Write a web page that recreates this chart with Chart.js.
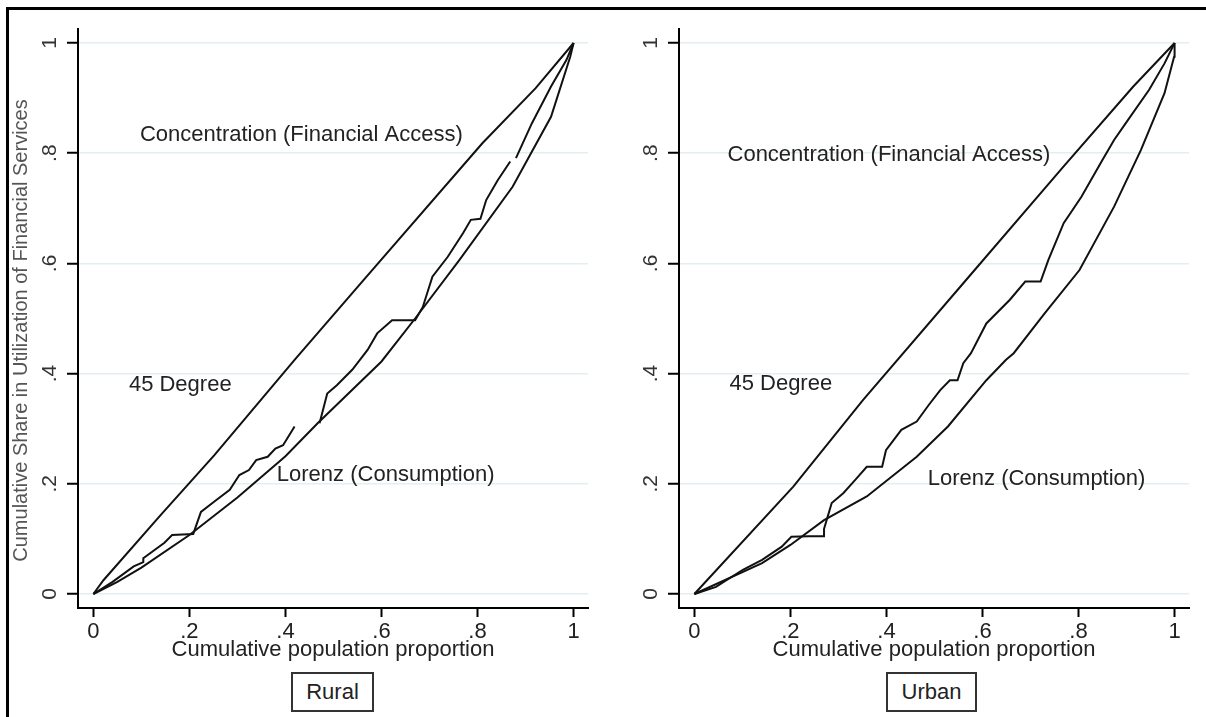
<!DOCTYPE html>
<html>
<head>
<meta charset="utf-8">
<script src="https://cdn.jsdelivr.net/npm/chart.js@4/dist/chart.umd.min.js"></script>
<style>
  html, body { margin: 0; padding: 0; background: #fff; overflow: hidden; }
  body { width: 1206px; height: 717px; position: relative; font-family: "Liberation Sans", Arial, sans-serif; }
  .frame { position: absolute; left: 6px; top: 7px; width: 1400px; height: 900px; border-left: 3px solid #000; border-top: 3px solid #000; }
  canvas { position: absolute; top: 0; }
  #ruralChart { left: 0; }
  #urbanChart { left: 601px; }
  .tag { position: absolute; top: 672px; height: 40px; box-sizing: border-box; border: 2px solid #333;
         font-size: 22px; color: #222; text-align: center; line-height: 36px; background: #fff; }
</style>
</head>
<body>
<div class="frame"></div>
<canvas id="ruralChart" width="601" height="717"></canvas>
<canvas id="urbanChart" width="601" height="717"></canvas>
<div class="tag" style="left:291px;width:83px;">Rural</div>
<div class="tag" style="left:886px;width:91px;">Urban</div>
<script>
// ticks
const tickValues = [0, 0.2, 0.4, 0.6, 0.8, 1];
const tickLabels = ['0', '.2', '.4', '.6', '.8', '1'];
const yTitle = 'Cumulative Share in Utilization of Financial Services';

// Rural panel
const ruralDiagonal = [[0,0],[0.021,0.025],[0.14,0.143],[0.252,0.252],[0.419,0.425],[0.563,0.57],[0.81,0.818],[0.921,0.918],[1,1]];
const ruralConcentration = [[0,0],[0.04,0.022],[0.084,0.05],[0.104,0.058],[0.104,0.065],[0.148,0.093],[0.164,0.107],[0.208,0.109],
  [0.224,0.149],[0.252,0.168],[0.284,0.189],[0.304,0.216],[0.324,0.225],[0.339,0.243],[0.363,0.249],[0.379,0.264],[0.395,0.27],[0.419,0.304],
  [null,null],
  [0.471,0.31],[0.487,0.364],[0.507,0.379],[0.539,0.407],[0.555,0.425],[0.571,0.443],[0.591,0.473],[0.622,0.497],[0.67,0.497],
  [0.686,0.521],[0.706,0.576],[0.738,0.612],[0.77,0.655],[0.786,0.679],[0.806,0.681],[0.818,0.715],[0.842,0.751],[0.868,0.785],
  [null,null],
  [0.88,0.791],[0.913,0.854],[0.953,0.921],[0.985,0.969],[1,1]];
const ruralLorenz = [[0,0],[0.05,0.022],[0.1,0.048],[0.2,0.107],[0.3,0.175],[0.4,0.25],[0.467,0.31],[0.6,0.422],[0.67,0.5],
  [0.762,0.606],[0.873,0.739],[0.953,0.866],[0.993,0.975],[1,1]];

// Urban panel
const urbanDiagonal = [[0,0],[0.206,0.195],[0.351,0.352],[0.56,0.564],[0.769,0.776],[0.914,0.921],[1,1]];
const urbanConcentration = [[0,0],[0.045,0.013],[0.101,0.044],[0.141,0.062],[0.182,0.086],[0.202,0.104],[0.238,0.105],[0.27,0.105],
  [0.27,0.118],[0.286,0.165],[0.31,0.183],[0.335,0.207],[0.359,0.231],[0.391,0.231],[0.399,0.261],[0.431,0.298],[0.463,0.313],
  [0.488,0.343],[0.512,0.37],[0.532,0.388],[0.548,0.388],[0.56,0.419],[0.576,0.437],[0.608,0.491],[0.657,0.534],[0.689,0.567],
  [0.721,0.567],[0.737,0.606],[0.769,0.673],[0.806,0.721],[0.85,0.788],[0.874,0.824],[0.898,0.854],[0.947,0.915],[0.979,0.963],[1,1]];
const urbanLorenz = [[0,0],[0.141,0.056],[0.2,0.089],[0.27,0.134],[0.359,0.177],[0.463,0.249],[0.528,0.304],[0.608,0.388],
  [0.649,0.425],[0.665,0.437],[0.729,0.509],[0.802,0.588],[0.874,0.703],[0.93,0.806],[0.979,0.909],[0.999,0.975],[1,1]];

// curve labels
const ruralNotes = [
  {x: 0.097, y: 0.833, text: 'Concentration (Financial Access)'},
  {x: 0.074, y: 0.379, text: '45 Degree'},
  {x: 0.382, y: 0.216, text: 'Lorenz (Consumption)'}
];
const urbanNotes = [
  {x: 0.069, y: 0.797, text: 'Concentration (Financial Access)'},
  {x: 0.073, y: 0.381, text: '45 Degree'},
  {x: 0.486, y: 0.209, text: 'Lorenz (Consumption)'}
];

const FONT = '"Liberation Sans", Arial, sans-serif';
Chart.defaults.font.family = FONT;

const toPoints = arr => arr.map(p => ({x: p[0], y: p[1]}));

// y tick labels are rotated like in Stata, plus the y title
const rotatedYTicks = {
  id: 'rotatedYTicks',
  afterDraw(chart, args, opts) {
    const ctx = chart.ctx, y = chart.scales.y, area = chart.chartArea;
    ctx.save();
    ctx.font = '21px ' + FONT;
    ctx.fillStyle = '#333';
    ctx.textAlign = 'center';
    ctx.textBaseline = 'middle';
    tickValues.forEach((v, i) => {
      ctx.save();
      ctx.translate(area.left - 28, y.getPixelForValue(v));
      ctx.rotate(-Math.PI / 2);
      ctx.fillText(tickLabels[i], 0, 0);
      ctx.restore();
    });
    if (opts.title) {
      ctx.font = '20px ' + FONT;
      ctx.fillStyle = '#555';
      ctx.translate(21, (area.top + area.bottom) / 2 + 12);
      ctx.rotate(-Math.PI / 2);
      ctx.fillText(opts.title, 0, 0);
    }
    ctx.restore();
  }
};

const curveNotes = {
  id: 'curveNotes',
  afterDatasetsDraw(chart, args, opts) {
    const ctx = chart.ctx;
    ctx.save();
    ctx.font = '22px ' + FONT;
    ctx.fillStyle = '#222';
    ctx.textAlign = 'left';
    ctx.textBaseline = 'middle';
    opts.notes.forEach(n => {
      ctx.fillText(n.text, chart.scales.x.getPixelForValue(n.x), chart.scales.y.getPixelForValue(n.y));
    });
    ctx.restore();
  }
};

const makePanel = (canvasId, diagonal, concentration, lorenz, notes, title) => {
  const line = data => ({
    data: toPoints(data),
    borderColor: '#111',
    borderWidth: 2,
    pointRadius: 0,
    tension: 0,
    fill: false,
    spanGaps: false
  });
  return new Chart(document.getElementById(canvasId), {
    type: 'line',
    data: {
      datasets: [line(diagonal), line(concentration), line(lorenz)]
    },
    options: {
      responsive: false,
      animation: false,
      layout: { padding: { top: 29, right: 13, bottom: 0, left: 0 } },
      plugins: {
        legend: { display: false },
        tooltip: { enabled: false },
        curveNotes: { notes: notes },
        rotatedYTicks: { title: title }
      },
      scales: {
        x: {
          type: 'linear',
          min: -0.032,
          max: 1.03,
          afterBuildTicks: s => { s.ticks = tickValues.map(v => ({value: v})); },
          afterFit: s => { s.height = 109; },
          border: { color: '#000', width: 2 },
          grid: { drawOnChartArea: false, tickLength: 9, tickColor: '#000', tickWidth: 2 },
          ticks: {
            color: '#222',
            font: { size: 22 },
            padding: 2,
            maxRotation: 0,
            autoSkip: false,
            callback: v => tickLabels[tickValues.indexOf(v)]
          },
          title: {
            display: true,
            text: 'Cumulative population proportion',
            color: '#222',
            font: { size: 22 },
            padding: { top: 0, bottom: 54 }
          }
        },
        y: {
          type: 'linear',
          min: -0.0254,
          max: 1.0254,
          afterBuildTicks: s => { s.ticks = tickValues.map(v => ({value: v})); },
          afterFit: s => { s.width = 78; },
          border: { color: '#000', width: 2 },
          grid: { color: '#e4edf1', lineWidth: 1.5, tickLength: 11, tickColor: '#000', tickWidth: 2 },
          ticks: { display: false }
        }
      }
    },
    plugins: [rotatedYTicks, curveNotes]
  });
};

makePanel('ruralChart', ruralDiagonal, ruralConcentration, ruralLorenz, ruralNotes, yTitle);
makePanel('urbanChart', urbanDiagonal, urbanConcentration, urbanLorenz, urbanNotes, '');
</script>
</body>
</html>
